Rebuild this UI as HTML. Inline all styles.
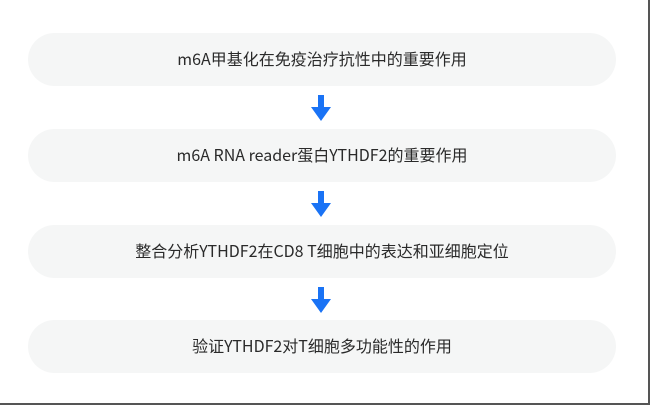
<!DOCTYPE html>
<html><head><meta charset="utf-8"><style>
html,body{margin:0;padding:0;background:#fff}
body{width:650px;height:405px;position:relative;overflow:hidden;font-family:"Noto Sans CJK SC","Liberation Sans",sans-serif}
.frame{position:absolute;left:0;top:0;width:648px;height:403px;border-right:2px solid #555;border-bottom:2px solid #555}
.box{position:absolute;left:28px;width:588px;height:53px;border-radius:27px;background:#f5f6f6;color:#2a2a2a;font-size:16px;line-height:50px;text-align:center}
svg{position:absolute;left:310px;width:22px;height:27px}
</style></head><body>
<div class="frame"></div>
<div class="box" style="top:33px">m6A甲基化在免疫治疗抗性中的重要作用</div>
<svg style="top:95px" viewBox="0 0 22 27"><path d="M8 0h6v12h7L11 26 1 12h7z" fill="#1a73f5"/></svg>
<div class="box" style="top:129px">m6A RNA reader蛋白YTHDF2的重要作用</div>
<svg style="top:191px" viewBox="0 0 22 27"><path d="M8 0h6v12h7L11 26 1 12h7z" fill="#1a73f5"/></svg>
<div class="box" style="top:225px">整合分析YTHDF2在CD8 T细胞中的表达和亚细胞定位</div>
<svg style="top:287px" viewBox="0 0 22 27"><path d="M8 0h6v12h7L11 26 1 12h7z" fill="#1a73f5"/></svg>
<div class="box" style="top:320px">验证YTHDF2对T细胞多功能性的作用</div>
</body></html>
